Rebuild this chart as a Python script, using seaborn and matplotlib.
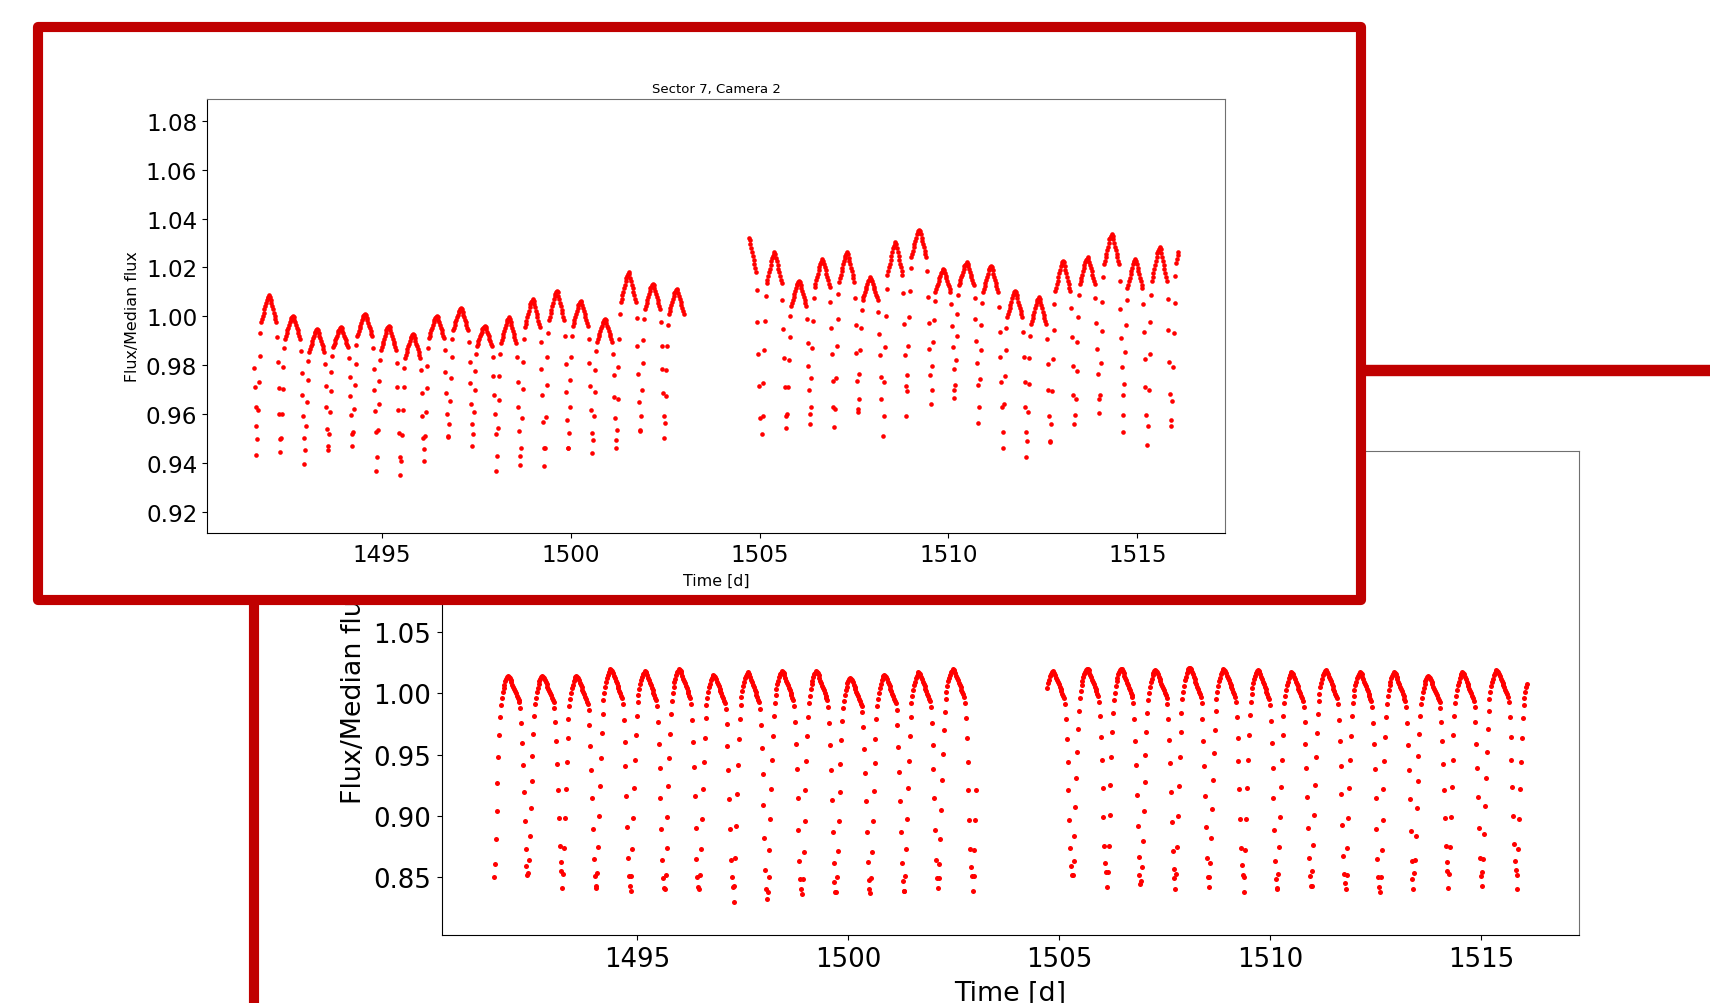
import matplotlib
matplotlib.use("Agg")
import matplotlib.pyplot as plt
import pandas as pd
import seaborn as sns
from matplotlib.patches import Rectangle
from matplotlib.lines import Line2D

# ------------------------------------------------------------------ data
CADENCE_D = 0.5 / 24.0          # 30-min full-frame cadence

# one-cycle shapes (0 = eclipse minimum, 1 = top of hump)
TOP_CYCLE_SHAPE = [0.00, 0.10, 0.28, 0.46, 0.62, 0.76,
                   0.83, 0.85, 0.87, 0.89, 0.91, 0.93, 0.95, 0.97, 0.98, 0.99,
                   1.00, 0.99, 0.97, 0.95, 0.93, 0.91, 0.89, 0.87, 0.85, 0.83,
                   0.74, 0.58, 0.42, 0.26, 0.10]
BOT_CYCLE_SHAPE = [0.000,
                   0.067, 0.189, 0.329, 0.468, 0.596, 0.708, 0.797, 0.858,
                   0.891, 0.919, 0.942, 0.958, 0.975, 0.986, 0.994, 1.000,
                   0.997, 0.992, 0.981, 0.969, 0.958, 0.947, 0.936, 0.925,
                   0.914, 0.903, 0.891, 0.880, 0.869,
                   0.841, 0.769, 0.669, 0.557, 0.423, 0.279, 0.139, 0.056, 0.011]

# top panel (Sector 7, Camera 2): eclipse times, minimum flux, hump flux
TOP_O1_RANGE = (1491.60, 1502.995)
TOP_O1_TIMES = [1491.05, 1491.68, 1492.31, 1492.95, 1493.58, 1494.22, 1494.85,
                1495.49, 1496.12, 1496.76, 1497.39, 1498.03, 1498.66, 1499.30,
                1499.93, 1500.57, 1501.20, 1501.84, 1502.47]
TOP_O1_MIN = [0.950, 0.943, 0.9445, 0.9395, 0.947, 0.947, 0.9365, 0.9351,
              0.9456, 0.9504, 0.947, 0.9365, 0.9392, 0.9388, 0.946, 0.9438,
              0.946, 0.9531, 0.950]
TOP_O1_PEAK = [1.000, 1.0087, 1.0003, 0.9948, 0.9955, 1.001, 0.9962, 0.9928,
               1.0003, 1.0033, 0.9962, 0.9996, 1.007, 1.0105, 1.0064, 0.9989,
               1.018, 1.0132, 1.0112]

TOP_O2_RANGE = (1504.70, 1516.10)
TOP_O2_TIMES = [1504.38, 1505.06, 1505.71, 1506.33, 1506.98, 1507.60, 1508.26,
                1508.89, 1509.53, 1510.15, 1510.79, 1511.43, 1512.06, 1512.70,
                1513.35, 1513.99, 1514.61, 1515.26, 1515.90]
TOP_O2_MIN = [0.950, 0.9518, 0.9541, 0.9560, 0.9548, 0.9607, 0.9510, 0.9695,
              0.9641, 0.9664, 0.9564, 0.9460, 0.9422, 0.9484, 0.9596, 0.9603,
              0.9525, 0.9471, 0.9576]
TOP_O2_PEAK = [1.032, 1.0262, 1.0146, 1.0235, 1.0262, 1.016, 1.0303, 1.0355,
               1.0194, 1.0221, 1.0207, 1.0105, 1.0078, 1.0228, 1.0242, 1.0337,
               1.0235, 1.0283, 1.0350]

# bottom panel
BOT_O1_RANGE = (1491.60, 1503.05)
BOT_O1_TIMES = [1491.60, 1492.41, 1493.22, 1494.03, 1494.84, 1495.65, 1496.47,
                1497.28, 1498.09, 1498.90, 1499.71, 1500.52, 1501.33, 1502.14,
                1502.95]
BOT_O1_MIN = [0.850, 0.853, 0.841, 0.841, 0.839, 0.840, 0.840, 0.830, 0.838,
              0.836, 0.838, 0.837, 0.839, 0.849, 0.839]
BOT_O1_PEAK = [1.014, 1.014, 1.014, 1.0196, 1.018, 1.0196, 1.015, 1.017, 1.018,
               1.018, 1.0125, 1.015, 1.017, 1.0196, 1.015]

BOT_O2_RANGE = (1504.70, 1516.10)
BOT_O2_TIMES = [1504.51, 1505.32, 1506.13, 1506.94, 1507.75, 1508.56, 1509.37,
                1510.17, 1510.98, 1511.79, 1512.60, 1513.41, 1514.22, 1515.03,
                1515.84]
BOT_O2_MIN = [0.850, 0.852, 0.842, 0.847, 0.840, 0.850, 0.838, 0.841, 0.843,
              0.840, 0.838, 0.853, 0.841, 0.854, 0.840]
BOT_O2_PEAK = [1.018, 1.020, 1.020, 1.019, 1.021, 1.0196, 1.019, 1.017, 1.019,
               1.017, 1.017, 1.014, 1.017, 1.019, 1.015]

X_TICKS = [1495, 1500, 1505, 1510, 1515]
TOP_Y_TICKS = [0.92, 0.94, 0.96, 0.98, 1.00, 1.02, 1.04, 1.06, 1.08]
BOT_Y_TICKS = [0.85, 0.90, 0.95, 1.00, 1.05]


def light_curve(shape, times, mins, peaks, span):
    rows = []
    for t0, lo, hi in zip(times, mins, peaks):
        for i, v in enumerate(shape):
            t = t0 + i * CADENCE_D
            if span[0] <= t <= span[1]:
                rows.append((t, lo + (hi - lo) * v))
    return rows


top_df = pd.DataFrame(
    light_curve(TOP_CYCLE_SHAPE, TOP_O1_TIMES, TOP_O1_MIN, TOP_O1_PEAK, TOP_O1_RANGE)
    + light_curve(TOP_CYCLE_SHAPE, TOP_O2_TIMES, TOP_O2_MIN, TOP_O2_PEAK, TOP_O2_RANGE),
    columns=["time", "flux"])
bot_df = pd.DataFrame(
    light_curve(BOT_CYCLE_SHAPE, BOT_O1_TIMES, BOT_O1_MIN, BOT_O1_PEAK, BOT_O1_RANGE)
    + light_curve(BOT_CYCLE_SHAPE, BOT_O2_TIMES, BOT_O2_MIN, BOT_O2_PEAK, BOT_O2_RANGE),
    columns=["time", "flux"])

# ------------------------------------------------------------------ figure
W, H = 1710, 1004
fig = plt.figure(figsize=(W / 100, H / 100), dpi=100)
fig.patch.set_facecolor("white")

RED = "#C00000"
SPINE_GREY = "#707070"


def fx(px):
    return px / W


def fy(py):
    return 1 - py / H


# bottom (background) panel
ax_b = fig.add_axes([fx(442), fy(936), fx(1579) - fx(442), fy(452) - fy(936)])
ax_b.set_zorder(0)
sns.scatterplot(data=bot_df, x="time", y="flux", color="red", s=13,
                linewidth=0, ax=ax_b, legend=False)
ax_b.set_xlim(1490.37, 1517.32)
ax_b.set_ylim(0.8027, 1.1978)
ax_b.set_xticks(X_TICKS)
ax_b.set_yticks(BOT_Y_TICKS)
ax_b.set_yticklabels([f"{v:.2f}" for v in BOT_Y_TICKS])
ax_b.tick_params(labelsize=18.7, pad=4.5)
ax_b.set_xlabel("Time [d]", fontsize=19.4, labelpad=5.5)
ax_b.set_ylabel("Flux/Median flux", fontsize=19.4, labelpad=4)
for side in ("top", "right"):
    ax_b.spines[side].set_color(SPINE_GREY)

# red highlight frame around the inset panel
frame = Rectangle((fx(38), fy(601)), fx(1360.5) - fx(38), fy(28) - fy(601),
                  transform=fig.transFigure, facecolor="white", edgecolor=RED,
                  linewidth=7.3, joinstyle="round", zorder=2)
fig.add_artist(frame)
fig.add_artist(Line2D([fx(1360.5), 1.0], [fy(371), fy(371)],
                      transform=fig.transFigure, color=RED, linewidth=8.2,
                      solid_capstyle="butt", zorder=2))
fig.add_artist(Line2D([fx(254), fx(254)], [fy(601), 0.0],
                      transform=fig.transFigure, color=RED, linewidth=7.3,
                      solid_capstyle="butt", zorder=2))

# top (inset) panel
ax_t = fig.add_axes([fx(207), fy(534), fx(1225) - fx(207), fy(100) - fy(534)])
ax_t.set_zorder(3)
sns.scatterplot(data=top_df, x="time", y="flux", color="red", s=11,
                linewidth=0, ax=ax_t, legend=False)
ax_t.set_xlim(1490.37, 1517.32)
ax_t.set_ylim(0.9112, 1.089)
ax_t.set_xticks(X_TICKS)
ax_t.set_yticks(TOP_Y_TICKS)
ax_t.set_yticklabels([f"{v:.2f}" for v in TOP_Y_TICKS])
ax_t.tick_params(labelsize=16.6)
ax_t.set_xlabel("Time [d]", fontsize=11.4, labelpad=5)
ax_t.set_ylabel("Flux/Median flux", fontsize=11.4, labelpad=4.5)
ax_t.set_title("Sector 7, Camera 2", fontsize=9.5, pad=5)
for side in ("top", "right"):
    ax_t.spines[side].set_color(SPINE_GREY)

fig.savefig("out.png", dpi=100, facecolor="white")
